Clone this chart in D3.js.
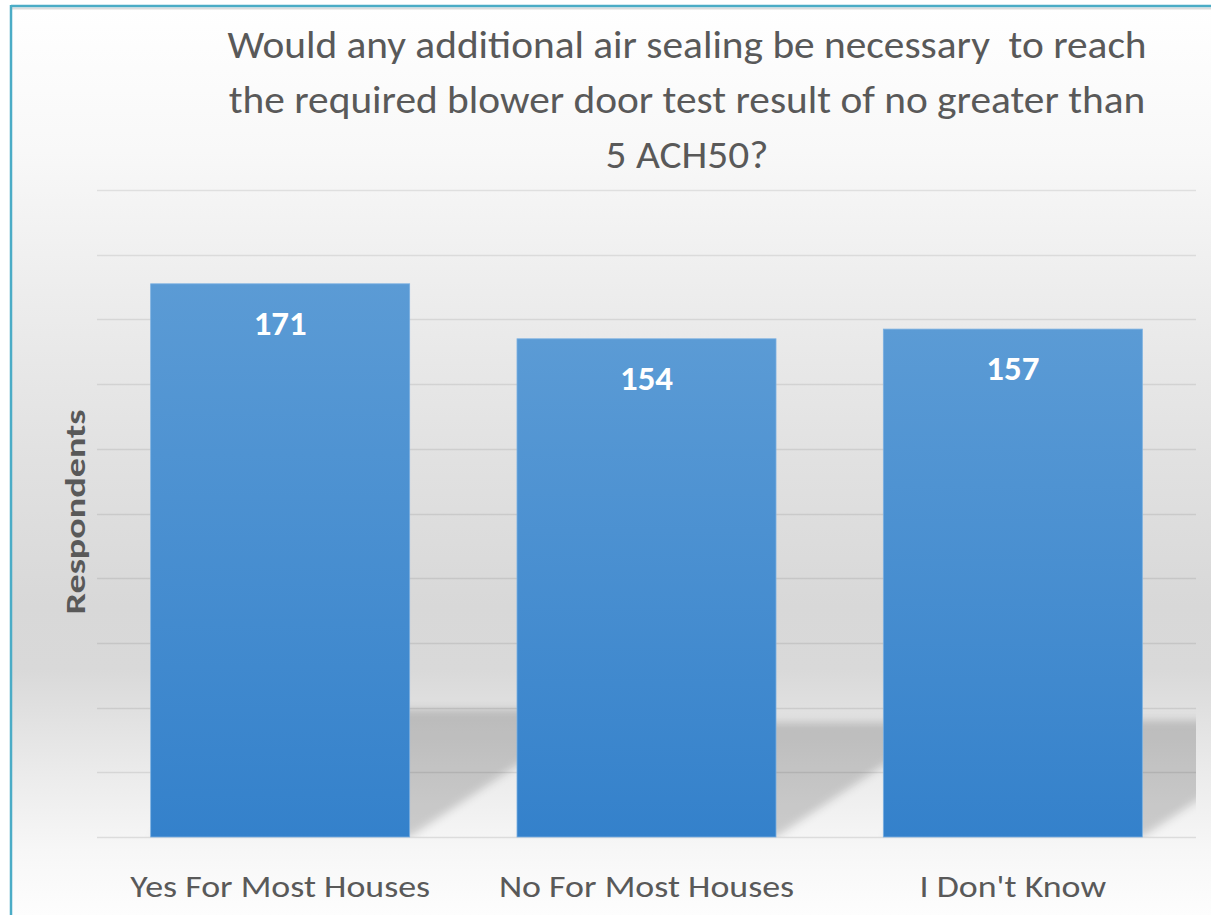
<!DOCTYPE html>
<html>
<head>
<meta charset="utf-8">
<script src="https://cdn.jsdelivr.net/npm/d3@7"></script>
<style>
  body { margin: 0; background: #fff; }
  text { font-family: Carlito, Lato, "Open Sans", sans-serif; }
</style>
</head>
<body>
<svg id="chart"></svg>
<script>
// chart data
var categories = ["Yes For Most Houses", "No For Most Houses", "I Don't Know"];
var respondents = [171, 154, 157];
var titleLines = ["Would any additional air sealing be necessary  to reach",
                  "the required blower door test result of no greater than",
                  "5 ACH50?"];
var yTitle = "Respondents";
var yMax = 200;
var yStep = 20;

var svgW = 1211;
var svgH = 915;

var plotLeft = 97, plotRight = 1196, plotTop = 190, plotBottom = 837;

var svg = d3.select("#chart")
  .attr("width", svgW)
  .attr("height", svgH);

var defs = svg.append("defs");

// chart area background, white -> grey -> white
var bg = defs.append("linearGradient")
  .attr("id", "bgGrad")
  .attr("gradientUnits", "userSpaceOnUse")
  .attr("x1", 0).attr("y1", 6).attr("x2", 0).attr("y2", svgH);
[[0, "#ffffff"], [0.16, "#f8f8f8"], [0.33, "#ececec"], [0.5, "#e1e1e1"],
 [0.66, "#d8d8d8"], [0.73, "#d9d9d9"], [0.85, "#ececec"], [0.93, "#f7f7f7"], [1, "#fdfdfd"]]
  .forEach(function(s){
    bg.append("stop").attr("offset", s[0]).attr("stop-color", s[1]);
  });

var barGrad = defs.append("linearGradient")
  .attr("id", "barGrad")
  .attr("x1", 0).attr("y1", 0).attr("x2", 0).attr("y2", 1);
barGrad.append("stop").attr("offset", 0).attr("stop-color", "#5b9bd5");
barGrad.append("stop").attr("offset", 1).attr("stop-color", "#3481cb");

defs.append("filter")
  .attr("id", "blur")
  .attr("x", "-20%").attr("y", "-20%").attr("width", "140%").attr("height", "140%")
  .append("feGaussianBlur")
  .attr("stdDeviation", 4.5);

defs.append("clipPath")
  .attr("id", "plotClip")
  .append("rect")
  .attr("x", plotLeft)
  .attr("y", plotTop)
  .attr("width", plotRight - plotLeft)
  .attr("height", plotBottom - plotTop);

// frame
svg.append("rect")
  .attr("x", 11).attr("y", 6)
  .attr("width", svgW - 11).attr("height", svgH - 6)
  .attr("fill", "url(#bgGrad)");
svg.append("line")
  .attr("x1", 12).attr("x2", svgW).attr("y1", 8.5).attr("y2", 8.5)
  .attr("stroke", "#dcdcdc").attr("stroke-width", 2);
svg.append("line")
  .attr("x1", 11).attr("x2", svgW).attr("y1", 6).attr("y2", 6)
  .attr("stroke", "#4bacc6").attr("stroke-width", 2.5);
svg.append("line")
  .attr("x1", 11).attr("x2", 11).attr("y1", 5).attr("y2", svgH)
  .attr("stroke", "#4bacc6").attr("stroke-width", 2.5);

// scales
var yScale = d3.scaleLinear()
  .domain([0, yMax])
  .range([plotBottom, plotTop]);

var xScale = d3.scaleBand()
  .domain(categories)
  .range([plotLeft, plotRight])
  .paddingInner(0.293)
  .paddingOuter(0.1465);

// gridlines
svg.append("g")
  .selectAll("line")
  .data(d3.range(0, yMax + 1, yStep))
  .enter()
  .append("line")
    .attr("x1", plotLeft)
    .attr("x2", plotRight)
    .attr("y1", function(d){ return Math.round(yScale(d)) + 0.5; })
    .attr("y2", function(d){ return Math.round(yScale(d)) + 0.5; })
    .attr("stroke", "#000")
    .attr("stroke-opacity", function(d){ return d == 0 ? 0.1 : 0.085; })
    .attr("stroke-width", 1.5);

// perspective shadow behind the bars
var shadowScale = 0.23;
var shadowSkew = 1.5;

svg.append("g")
  .attr("clip-path", "url(#plotClip)")
  .append("g")
  .attr("filter", "url(#blur)")
  .selectAll("polygon")
  .data(respondents)
  .enter()
  .append("polygon")
    .attr("points", function(d, i){
      var x0 = xScale(categories[i]);
      var x1 = x0 + xScale.bandwidth();
      var base = yScale(0);
      var h = (yScale(0) - yScale(d)) * shadowScale;
      var dx = h * shadowSkew;
      return [[x0, base], [x1, base], [x1 + dx, base - h], [x0 + dx, base - h]].join(" ");
    })
    .attr("fill", "#000")
    .attr("fill-opacity", 0.17);

// bars
svg.append("g")
  .selectAll("rect")
  .data(respondents)
  .enter()
  .append("rect")
    .attr("x", function(d, i){ return xScale(categories[i]); })
    .attr("y", function(d){ return yScale(d); })
    .attr("width", xScale.bandwidth())
    .attr("height", function(d){ return yScale(0) - yScale(d); })
    .attr("fill", "url(#barGrad)")
    .attr("stroke", "#7ab0e2")
    .attr("stroke-width", 0.8);

// helper: horizontal squeeze so a text at a given size has the wanted width
// (the original face is narrower than the ones we have)
function squeeze(txt, size, weight, target){
  var t = svg.append("text")
    .attr("font-size", size)
    .attr("font-weight", weight)
    .style("white-space", "pre")
    .text(txt);
  var w = t.node().getComputedTextLength();
  t.remove();
  return target / w;
}

// value labels
var valSize = 35;
var valSx = squeeze("171", valSize, "bold", 53);
svg.append("g")
  .selectAll("text")
  .data(respondents)
  .enter()
  .append("text")
    .attr("transform", function(d, i){
      var cx = xScale(categories[i]) + xScale.bandwidth() / 2;
      return "translate(" + cx + "," + (yScale(d) + 51) + ") scale(" + valSx + ",1)";
    })
    .attr("text-anchor", "middle")
    .attr("font-size", valSize)
    .attr("font-weight", "bold")
    .attr("fill", "#ffffff")
    .text(function(d){ return d; });

// category labels
var catSize = 30.5;
var catSx = squeeze(categories[0], catSize, "normal", 300);
svg.append("g")
  .selectAll("text")
  .data(categories)
  .enter()
  .append("text")
    .attr("transform", function(d){
      var cx = xScale(d) + xScale.bandwidth() / 2;
      return "translate(" + cx + ",897) scale(" + catSx + ",1)";
    })
    .attr("text-anchor", "middle")
    .attr("font-size", catSize)
    .attr("fill", "#595959")
    .text(function(d){ return d; });

// y axis title
var yTitleSize = 29;
var yTitleSx = squeeze(yTitle, yTitleSize, "bold", 205);
svg.append("text")
  .attr("transform", "translate(85,512) rotate(-90) scale(" + yTitleSx + ",1)")
  .attr("text-anchor", "middle")
  .attr("font-size", yTitleSize)
  .attr("font-weight", "bold")
  .attr("fill", "#595959")
  .text(yTitle);

// chart title
var titleSize = 38.5;
var titleSx = squeeze(titleLines[1], titleSize, "normal", 917);
svg.append("g")
  .selectAll("text")
  .data(titleLines)
  .enter()
  .append("text")
    .attr("transform", function(d, i){
      return "translate(687," + (58 + i * 55) + ") scale(" + titleSx + ",1)";
    })
    .attr("text-anchor", "middle")
    .attr("font-size", titleSize)
    .attr("fill", "#595959")
    .style("white-space", "pre")
    .text(function(d){ return d; });
</script>
</body>
</html>
